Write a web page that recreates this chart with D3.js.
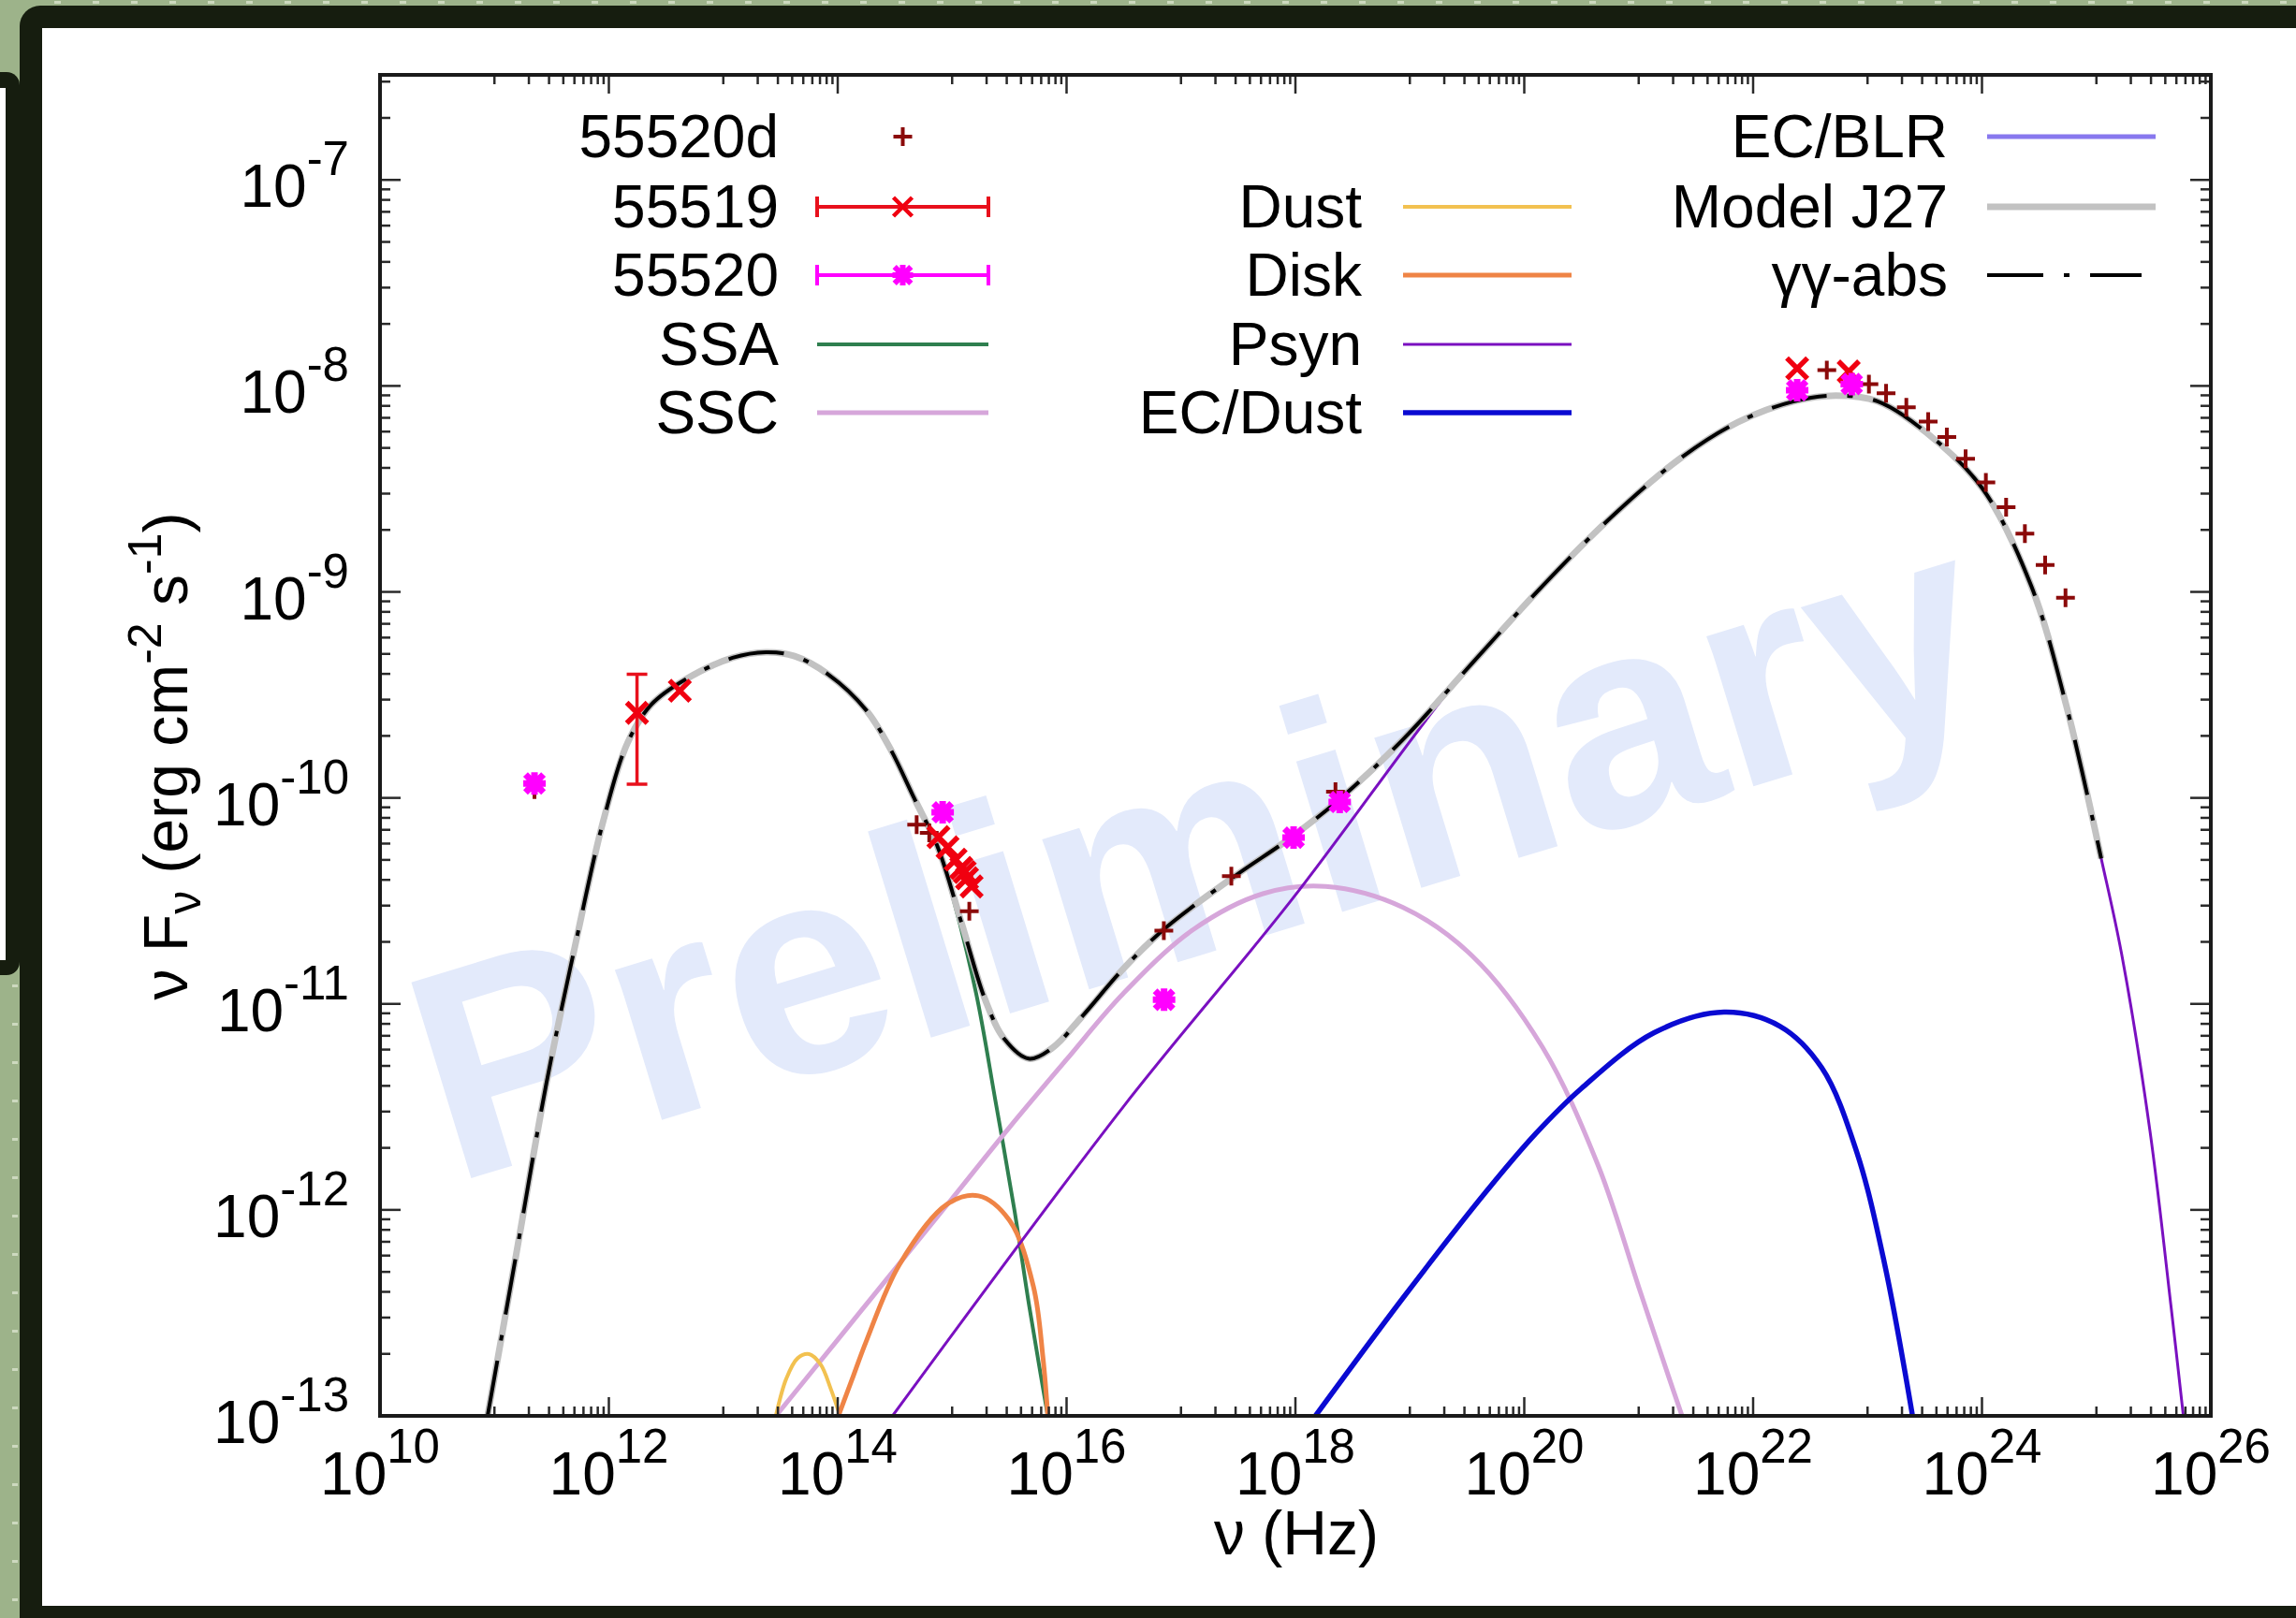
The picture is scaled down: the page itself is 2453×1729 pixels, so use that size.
<!DOCTYPE html>
<html>
<head>
<meta charset="utf-8">
<script src="https://cdn.jsdelivr.net/npm/d3@7"></script>
<style>
html, body { margin: 0; padding: 0; background: #9db38a; }
svg { display: block; }
text { font-family: "Liberation Sans", Arial, Helvetica, sans-serif; }
</style>
</head>
<body>
<div id="chart"></div>
<script>
// axis decades (labelled)
var xTickExps = [10, 12, 14, 16, 18, 20, 22, 24, 26];
var yTickExps = [-13, -12, -11, -10, -9, -8, -7];

// model curves: [log10 nu (Hz), log10 nuFnu (erg cm^-2 s^-1)]
var ssa = [[10.94,-13],[11.2,-12.185],[11.454,-11.386],[11.704,-10.72],[11.954,-10.106],[12.163,-9.733],
  [12.371,-9.547],[12.663,-9.427],[13.081,-9.32],[13.373,-9.293],[13.623,-9.312],[13.916,-9.4],[14.249,-9.574],
  [14.458,-9.76],[14.667,-10.0],[14.875,-10.24],[15.0,-10.47],[15.21,-10.95],[15.377,-11.466],[15.544,-12.0],
  [15.669,-12.451],[15.773,-12.798],[15.836,-13]];
var ssc = [[13.46,-13],[14.0,-12.63],[14.54,-12.26],[15.0,-11.945],[15.5,-11.6],[16.0,-11.27],[16.495,-10.95],
  [17.105,-10.64],[17.716,-10.465],[18.265,-10.43],[18.937,-10.531],[19.547,-10.768],[20.158,-11.209],
  [20.646,-11.785],[21.013,-12.396],[21.257,-12.802],[21.379,-13]];
var dust = [[13.46,-13],[13.55,-12.82],[13.65,-12.72],[13.75,-12.70],[13.85,-12.75],[13.94,-12.87],[14.02,-13]];
var disk = [[14.006,-13],[14.124,-12.825],[14.249,-12.638],[14.54,-12.265],[14.958,-11.972],[15.23,-11.932],
  [15.502,-12.052],[15.71,-12.371],[15.794,-12.718],[15.836,-13]];
var psyn = [[14.479,-13],[16.495,-11.5],[17.96,-10.5],[19.487,-9.378],[20.158,-8.98],[20.768,-8.64],[21.379,-8.35],
  [21.867,-8.18],[22.356,-8.08],[22.722,-8.05],[23.088,-8.08],[23.515,-8.23],[24.004,-8.5],[24.431,-8.975],
  [24.736,-9.55],[25.042,-10.294],[25.224,-10.768],[25.468,-11.616],[25.651,-12.463],[25.76,-13]];
var ecDust = [[18.175,-13],[18.937,-12.43],[19.669,-11.91],[20.1,-11.63],[20.5,-11.41],[21.135,-11.14],[21.745,-11.04],
  [22.233,-11.108],[22.6,-11.31],[22.905,-11.718],[23.149,-12.262],[23.393,-13]];
var modelJ27 = [[10.94,-13],[11.2,-12.185],[11.454,-11.386],[11.704,-10.72],[11.954,-10.106],[12.163,-9.733],
  [12.371,-9.547],[12.663,-9.427],[13.081,-9.32],[13.373,-9.293],[13.623,-9.312],[13.916,-9.4],[14.249,-9.574],
  [14.458,-9.76],[14.667,-10.0],[14.875,-10.24],[15.085,-10.613],[15.293,-10.986],[15.46,-11.173],[15.669,-11.266],
  [15.878,-11.213],[16.128,-11.066],[16.495,-10.83],[16.861,-10.633],[17.472,-10.379],[17.96,-10.193],
  [18.387,-10.006],[18.937,-9.718],[19.547,-9.345],[20.158,-8.972],[20.768,-8.633],[21.379,-8.345],
  [21.867,-8.176],[22.356,-8.075],[22.722,-8.047],[23.088,-8.075],[23.515,-8.227],[24.004,-8.498],
  [24.431,-8.972],[24.736,-9.549],[25.042,-10.294]];

// data points
var obs55520d = [[11.35,-9.96],[14.69,-10.13],[14.80,-10.17],[15.15,-10.55],[16.85,-10.645],[17.44,-10.38],
  [18.35,-9.97],[22.644,-7.923],[23.012,-7.991],[23.162,-8.036],[23.339,-8.104],[23.53,-8.173],[23.693,-8.248],
  [23.857,-8.354],[24.034,-8.468],[24.211,-8.589],[24.375,-8.717],[24.552,-8.869],[24.73,-9.028]];
var obs55519 = [[12.246,-9.587],[12.62,-9.48],[14.88,-10.19],[14.96,-10.24],[15.03,-10.30],[15.08,-10.34],
  [15.13,-10.39],[15.17,-10.43],[15.11,-10.36],[22.385,-7.915],[22.835,-7.93]];
var err55519 = [[12.246,-9.933,-9.40]];
var obs55520 = [[11.35,-9.93],[14.917,-10.07],[16.852,-10.98],[17.984,-10.193],[18.387,-10.02],
  [22.385,-8.021],[22.862,-7.991]];

var W = 2453, H = 1729;
var plot = {left: 406, right: 2362, top: 80, bottom: 1513};

var x = d3.scaleLog().domain([1e10, 1e26]).range([plot.left, plot.right]);
var y = d3.scaleLog().domain([1e-13, Math.pow(10, -6.49)]).range([plot.bottom, plot.top]);
var px = function(d) { return x(Math.pow(10, d[0])); };
var py = function(d) { return y(Math.pow(10, d[1])); };

var svg = d3.select("#chart").append("svg").attr("width", W).attr("height", H);

// slide frame around the figure
svg.append("rect").attr("width", W).attr("height", H).attr("fill", "#9db38a");
var dots = svg.append("g").attr("fill", "#cdd9bf");
d3.range(58, W, 41).forEach(function(p) {
  dots.append("rect").attr("x", p).attr("y", 1).attr("width", 7).attr("height", 3);
});
d3.range(1052, H, 41).forEach(function(p) {
  dots.append("rect").attr("x", 13).attr("y", p).attr("width", 6).attr("height", 3);
});
svg.append("rect").attr("x", 21).attr("y", 6).attr("width", W).attr("height", H + 20)
  .attr("rx", 22).attr("fill", "#161d0f");
svg.append("rect").attr("x", 45).attr("y", 30).attr("width", W - 45).attr("height", 1686).attr("fill", "#fff");
svg.append("rect").attr("x", -30).attr("y", 77).attr("width", 51).attr("height", 965)
  .attr("rx", 14).attr("fill", "#161d0f");
svg.append("rect").attr("x", 0).attr("y", 94).attr("width", 6).attr("height", 932).attr("fill", "#fff");

// watermark
svg.append("text")
  .attr("transform", "translate(1278,903) rotate(-17)")
  .attr("text-anchor", "middle")
  .attr("y", 114)
  .attr("font-size", 318)
  .attr("font-weight", "bold")
  .attr("fill", "#e3eafb")
  .text("Preliminary");

svg.append("clipPath").attr("id", "clip").append("rect")
  .attr("x", plot.left).attr("y", plot.top)
  .attr("width", plot.right - plot.left).attr("height", plot.bottom - plot.top);

var line = d3.line().x(px).y(py).curve(d3.curveCatmullRom.alpha(0.5));
var curves = svg.append("g").attr("clip-path", "url(#clip)").attr("fill", "none");

function drawCurve(data, color, width, dash) {
  var p = curves.append("path").datum(data).attr("d", line)
    .attr("stroke", color).attr("stroke-width", width)
    .attr("stroke-linejoin", "round");
  if (dash) p.attr("stroke-dasharray", dash);
}

var styles = {
  ssa: {color: "#2f7f4f", width: 4},
  ssc: {color: "#d6a6da", width: 5},
  dust: {color: "#f2c150", width: 4},
  disk: {color: "#ef8446", width: 5},
  psyn: {color: "#7a10c0", width: 3},
  ecDust: {color: "#0a0ad2", width: 5.5},
  ecBlr: {color: "#8878ee", width: 5},
  model: {color: "#c2c2c2", width: 7},
  gg: {color: "#000", width: 4, dash: "60,22,6,22"}
};

drawCurve(ssa, styles.ssa.color, styles.ssa.width);
drawCurve(ssc, styles.ssc.color, styles.ssc.width);
drawCurve(dust, styles.dust.color, styles.dust.width);
drawCurve(disk, styles.disk.color, styles.disk.width);
drawCurve(psyn, styles.psyn.color, styles.psyn.width);
drawCurve(ecDust, styles.ecDust.color, styles.ecDust.width);
drawCurve(modelJ27, styles.model.color, styles.model.width);
drawCurve(modelJ27, styles.gg.color, styles.gg.width, styles.gg.dash);

// markers
function plusPath(cx, cy, s) {
  return "M" + (cx - s) + "," + cy + "H" + (cx + s) + "M" + cx + "," + (cy - s) + "V" + (cy + s);
}
function crossPath(cx, cy, s) {
  return "M" + (cx - s) + "," + (cy - s) + "L" + (cx + s) + "," + (cy + s) +
    "M" + (cx - s) + "," + (cy + s) + "L" + (cx + s) + "," + (cy - s);
}
function starPath(cx, cy, s) { return plusPath(cx, cy, s) + crossPath(cx, cy, s * 0.8); }

var pts = svg.append("g").attr("fill", "none");
pts.selectAll("path.e19").data(err55519).enter().append("path").attr("class", "e19")
  .attr("d", function(d) {
    var cx = x(Math.pow(10, d[0])), lo = y(Math.pow(10, d[1])), hi = y(Math.pow(10, d[2]));
    return "M" + cx + "," + lo + "V" + hi + "M" + (cx - 11) + "," + lo + "H" + (cx + 11) +
      "M" + (cx - 11) + "," + hi + "H" + (cx + 11);
  })
  .attr("stroke", "#e8101c").attr("stroke-width", 3.5);
pts.selectAll("path.d20").data(obs55520d).enter().append("path").attr("class", "d20")
  .attr("d", function(d) { return plusPath(px(d), py(d), 10); })
  .attr("stroke", "#8b0a0a").attr("stroke-width", 4);
pts.selectAll("path.o19").data(obs55519).enter().append("path").attr("class", "o19")
  .attr("d", function(d) { return crossPath(px(d), py(d), 11); })
  .attr("stroke", "#f00010").attr("stroke-width", 5.5);
pts.selectAll("path.o20").data(obs55520).enter().append("path").attr("class", "o20")
  .attr("d", function(d) { return starPath(px(d), py(d), 12); })
  .attr("stroke", "#ff00ff").attr("stroke-width", 7);

// frame and ticks
var axes = svg.append("g").attr("stroke", "#2a2a2a");
var xMajor = xTickExps.map(function(e) { return Math.pow(10, e); });
var xMinor = [];
d3.range(11, 26, 2).forEach(function(e) {
  d3.range(1, 10).forEach(function(k) { xMinor.push(k * Math.pow(10, e)); });
});
var yMajor = yTickExps.map(function(e) { return Math.pow(10, e); });
var yMinor = [];
d3.range(-13, -6).forEach(function(e) {
  d3.range(2, 10).forEach(function(k) {
    var v = k * Math.pow(10, e);
    if (v < y.domain()[1]) yMinor.push(v);
  });
});
function xTicks(vals, len) {
  vals.forEach(function(v) {
    var cx = x(v);
    axes.append("line").attr("x1", cx).attr("x2", cx).attr("y1", plot.bottom).attr("y2", plot.bottom - len).attr("stroke-width", 2.5);
    axes.append("line").attr("x1", cx).attr("x2", cx).attr("y1", plot.top).attr("y2", plot.top + len).attr("stroke-width", 2.5);
  });
}
function yTicks(vals, len) {
  vals.forEach(function(v) {
    var cy = y(v);
    axes.append("line").attr("x1", plot.left).attr("x2", plot.left + len).attr("y1", cy).attr("y2", cy).attr("stroke-width", 2.5);
    axes.append("line").attr("x1", plot.right).attr("x2", plot.right - len).attr("y1", cy).attr("y2", cy).attr("stroke-width", 2.5);
  });
}
xTicks(xMajor, 20); xTicks(xMinor, 10);
yTicks(yMajor, 22); yTicks(yMinor, 11);
axes.append("rect").attr("x", plot.left).attr("y", plot.top)
  .attr("width", plot.right - plot.left).attr("height", plot.bottom - plot.top)
  .attr("fill", "none").attr("stroke-width", 4).attr("stroke", "#1a1a1a");

// tick labels
var labels = svg.append("g").attr("fill", "#000");
xTickExps.forEach(function(e) {
  var t = labels.append("text").attr("x", x(Math.pow(10, e))).attr("y", 1597)
    .attr("text-anchor", "middle").attr("font-size", 64);
  t.append("tspan").text("10");
  t.append("tspan").attr("dy", -34).attr("font-size", 51).text(e);
});
yTickExps.forEach(function(e) {
  var t = labels.append("text").attr("x", 373).attr("y", y(Math.pow(10, e)) + 29)
    .attr("text-anchor", "end").attr("font-size", 64);
  t.append("tspan").text("10");
  t.append("tspan").attr("dy", -34).attr("font-size", 51).text(e);
});

// axis titles
labels.append("text").attr("x", 1385).attr("y", 1661).attr("text-anchor", "middle")
  .attr("font-size", 66).text("\u03bd (Hz)");
var yt = labels.append("text").attr("transform", "translate(200,808) rotate(-90)")
  .attr("text-anchor", "middle").attr("font-size", 66);
yt.append("tspan").text("\u03bd F");
yt.append("tspan").attr("dy", 14).attr("font-size", 50).text("\u03bd");
yt.append("tspan").attr("dy", -14).text(" (erg cm");
yt.append("tspan").attr("dy", -28).attr("font-size", 50).text("-2");
yt.append("tspan").attr("dy", 28).text(" s");
yt.append("tspan").attr("dy", -28).attr("font-size", 50).text("-1");
yt.append("tspan").attr("dy", 28).text(")");

// legend
var rowY = [146, 221, 294, 368, 441];
var cols = [
  {textX: 832, x1: 873, x2: 1056},
  {textX: 1455, x1: 1499, x2: 1679},
  {textX: 2081, x1: 2123, x2: 2303}
];
var legendItems = [
  {label: "55520d", col: 0, row: 0, kind: "plus"},
  {label: "55519", col: 0, row: 1, kind: "cross"},
  {label: "55520", col: 0, row: 2, kind: "star"},
  {label: "SSA", col: 0, row: 3, kind: "line", key: "ssa"},
  {label: "SSC", col: 0, row: 4, kind: "line", key: "ssc"},
  {label: "Dust", col: 1, row: 1, kind: "line", key: "dust"},
  {label: "Disk", col: 1, row: 2, kind: "line", key: "disk"},
  {label: "Psyn", col: 1, row: 3, kind: "line", key: "psyn"},
  {label: "EC/Dust", col: 1, row: 4, kind: "line", key: "ecDust"},
  {label: "EC/BLR", col: 2, row: 0, kind: "line", key: "ecBlr"},
  {label: "Model J27", col: 2, row: 1, kind: "line", key: "model"},
  {label: "\u03b3\u03b3-abs", col: 2, row: 2, kind: "line", key: "gg"}
];
var leg = svg.append("g");
legendItems.forEach(function(it) {
  var c = cols[it.col], ry = rowY[it.row], cx = (c.x1 + c.x2) / 2;
  leg.append("text").attr("x", c.textX).attr("y", ry + 22).attr("text-anchor", "end")
    .attr("font-size", 64).text(it.label);
  if (it.kind === "line") {
    var s = styles[it.key];
    var l = leg.append("line").attr("x1", c.x1).attr("x2", c.x2).attr("y1", ry).attr("y2", ry)
      .attr("stroke", s.color).attr("stroke-width", s.width);
    if (s.dash) l.attr("stroke-dasharray", s.dash).attr("x2", c.x2 - 15);
  } else if (it.kind === "plus") {
    leg.append("path").attr("d", plusPath(cx, ry, 10)).attr("stroke", "#8b0a0a").attr("stroke-width", 4);
  } else {
    var col = it.kind === "cross" ? "#e8101c" : "#ff00ff";
    leg.append("path").attr("d", "M" + c.x1 + "," + ry + "H" + c.x2 + "M" + c.x1 + "," + (ry - 11) + "V" + (ry + 11) +
      "M" + c.x2 + "," + (ry - 11) + "V" + (ry + 11)).attr("stroke", col).attr("stroke-width", 4).attr("fill", "none");
    if (it.kind === "cross") {
      leg.append("path").attr("d", crossPath(cx, ry, 10)).attr("stroke", "#f00010").attr("stroke-width", 4.5);
    } else {
      leg.append("path").attr("d", starPath(cx, ry, 11)).attr("stroke", "#ff00ff").attr("stroke-width", 6);
    }
  }
});
</script>
</body>
</html>
